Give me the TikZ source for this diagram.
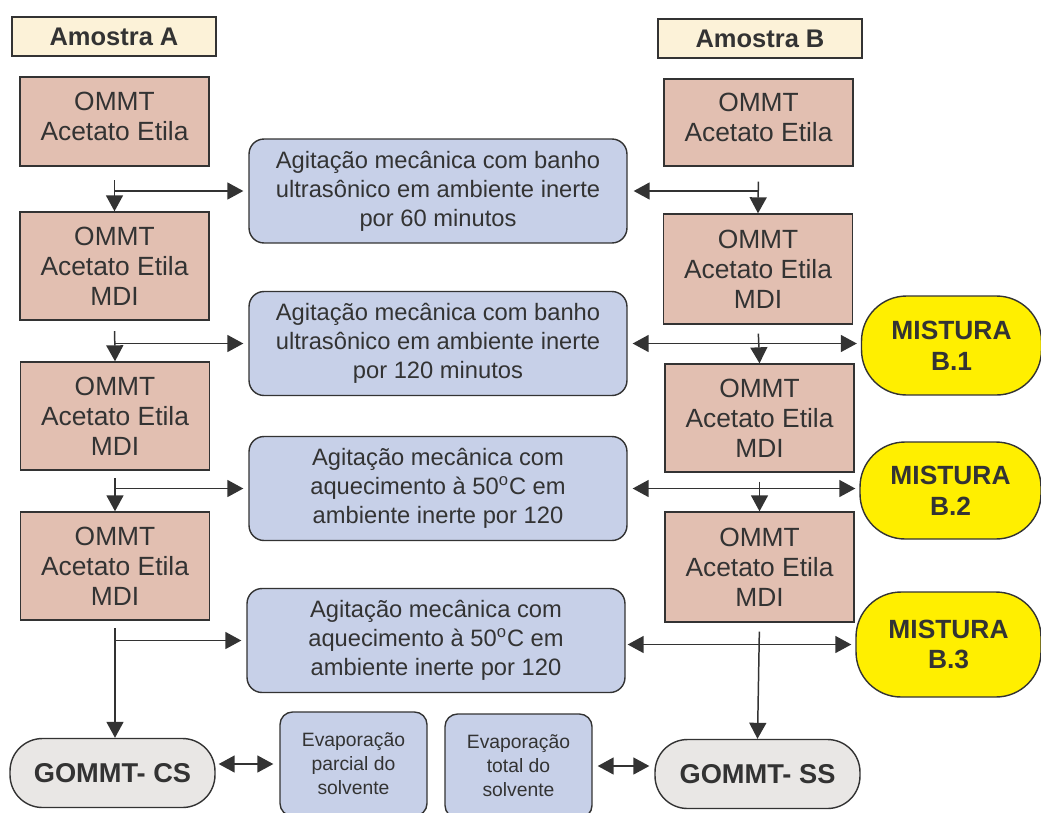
\documentclass[tikz,border=0pt]{standalone}
\usepackage{fontspec}
\setmainfont{Liberation Sans}
\usetikzlibrary{arrows.meta,positioning}
\definecolor{edge}{HTML}{333333}
\definecolor{creamfill}{HTML}{FCF2D8}
\definecolor{rosefill}{HTML}{E2BFB1}
\definecolor{bluefill}{HTML}{C7D0E8}
\definecolor{mixfill}{HTML}{FFEF00}
\definecolor{greyfill}{HTML}{E9E7E5}
\tikzset{
  header/.style = {draw = edge, fill = creamfill, line width = 0.8pt,
    minimum width = 4.08cm, minimum height = 0.78cm,
    font = \fontsize{14.5}{16}\selectfont\bfseries, text = edge},
  sample/.style = {draw = edge, fill = rosefill, line width = 0.8pt,
    minimum width = 3.78cm, minimum height = 2.16cm, align = center,
    font = \fontsize{15}{17}\selectfont, text = edge},
  process/.style = {draw = edge, fill = bluefill, line width = 0.8pt,
    rounded corners = 0.3cm, minimum width = 7.56cm, minimum height = 2.08cm,
    align = center, font = \fontsize{13.5}{16.5}\selectfont, text = edge},
  mix/.style = {draw = edge, fill = mixfill, line width = 0.8pt,
    rounded corners = 0.9cm, minimum width = 3.6cm, minimum height = 1.98cm,
    align = center, font = \fontsize{15}{17.5}\selectfont\bfseries, text = edge},
  product/.style = {draw = edge, fill = greyfill, line width = 0.8pt,
    rounded corners = 0.65cm, minimum width = 4.1cm, minimum height = 1.38cm,
    font = \fontsize{15.5}{18}\selectfont\bfseries, text = edge},
  evap/.style = {draw = edge, fill = bluefill, line width = 0.8pt,
    rounded corners = 0.25cm, minimum width = 2.94cm, minimum height = 2.08cm,
    align = center, font = \fontsize{11}{13.6}\selectfont, text = edge},
  link/.style = {draw = edge, line width = 0.85pt,
    -{Triangle[length = 0.32cm, width = 0.34cm]}},
  dlink/.style = {draw = edge, line width = 0.85pt,
    {Triangle[length = 0.32cm, width = 0.34cm]}-{Triangle[length = 0.32cm, width = 0.34cm]}},
}
\begin{document}
\begin{tikzpicture}[x = 0.02cm, y = -0.02cm]
  \useasboundingbox (0,0) rectangle (1041,812);
  % headers
  \node[header] (amA) at (114,36.5) {Amostra A};
  \node[header] (amB) at (760,38.5) {Amostra B};
  % sample A column
  \node[sample, minimum height = 1.78cm] (a1) at (114.5,121.5) {OMMT\\Acetato Etila\\[-11pt]};
  \node[sample] (a2) at (114.5,266) {OMMT\\Acetato Etila\\MDI};
  \node[sample] (a3) at (115,416) {OMMT\\Acetato Etila\\MDI};
  \node[sample] (a4) at (115,566) {OMMT\\Acetato Etila\\MDI};
  % sample B column
  \node[sample, minimum height = 1.74cm] (b1) at (758.5,122.5) {OMMT\\Acetato Etila\\[-11pt]};
  \node[sample, minimum height = 2.2cm] (b2) at (758,269) {OMMT\\Acetato Etila\\MDI};
  \node[sample] (b3) at (759.5,418) {OMMT\\Acetato Etila\\MDI};
  \node[sample, minimum height = 2.2cm] (b4) at (759.5,567) {OMMT\\Acetato Etila\\MDI};
  % process steps
  \node[process] (p1) at (438,191) {Agitação mecânica com banho\\ultrasônico em ambiente inerte\\por 60 minutos};
  \node[process] (p2) at (438,343.5) {Agitação mecânica com banho\\ultrasônico em ambiente inerte\\por 120 minutos};
  \node[process] (p3) at (438,488.5) {Agitação mecânica com\\aquecimento à 50\textsuperscript{o}C em\\ambiente inerte por 120};
  \node[process] (p4) at (436,640.5) {Agitação mecânica com\\aquecimento à 50\textsuperscript{o}C em\\ambiente inerte por 120};
  % mixtures
  \node[mix] (m1) at (951.5,345.5) {MISTURA\\B.1};
  \node[mix, minimum width = 3.62cm, minimum height = 1.94cm] (m2) at (950.5,490.5) {MISTURA\\B.2};
  \node[mix, minimum width = 3.7cm, minimum height = 2.1cm] (m3) at (948.5,644.5) {MISTURA\\B.3};
  % products
  \node[product] (cs) at (112.5,773) {GOMMT- CS};
  \node[product] (ss) at (757.5,774) {GOMMT- SS};
  \node[evap] (e1) at (353.5,764) {Evaporação\\parcial do\\solvente};
  \node[evap] (e2) at (518.5,766) {Evaporação\\total do\\solvente};
  % connectors, column A
  \draw[link, shorten <= 9\pgflinewidth] (a1.south) -- (a2.north);
  \draw[link] (a1.south |- p1.west) -- ([xshift = -0.1cm]p1.west);
  \draw[link, shorten <= 7\pgflinewidth] (a2.south) -- (a3.north);
  \draw[link] (a2.south |- p2.west) -- ([xshift = -0.1cm]p2.west);
  \draw[link, shorten <= 5\pgflinewidth] (a3.south) -- (a3.south |- a4.north);
  \draw[link] (a3.south |- p3.west) -- ([xshift = -0.1cm]p3.west);
  \draw[link, shorten <= 5\pgflinewidth] (a4.south) -- (a4.south |- cs.north);
  \draw[link] (a4.south |- p4.west) -- ([xshift = -0.1cm]p4.west);
  % connectors, column B
  \draw[link, shorten <= 10\pgflinewidth] (b1.south) -- (b2.north);
  \draw[link] (b1.south |- p1.east) -- ([xshift = 0.12cm]p1.east);
  \draw[link, shorten <= 6\pgflinewidth] (b2.south) -- (b3.north);
  \draw[dlink] ([xshift = 0.1cm]p2.east) -- ([xshift = -0.08cm]p2.east -| m1.west);
  \draw[link, shorten <= 6\pgflinewidth] (b3.south) -- (b4.north);
  \draw[dlink] ([xshift = 0.1cm]p3.east) -- ([xshift = -0.08cm]p3.east -| m2.west);
  \draw[link, shorten <= 6\pgflinewidth] (b4.south) -- (ss.north);
  \draw[dlink] ([xshift = 0.04cm, yshift = -0.08cm]p4.east) -- ([xshift = -0.08cm, yshift = -0.08cm]p4.east -| m3.west);
  % evaporation links
  \draw[dlink] ([xshift = 0.06cm]cs.east |- e1.west) -- ([xshift = -0.12cm]e1.west);
  \draw[dlink] ([xshift = 0.1cm]e2.east) -- ([xshift = -0.1cm]e2.east -| ss.west);
\end{tikzpicture}
\end{document}
